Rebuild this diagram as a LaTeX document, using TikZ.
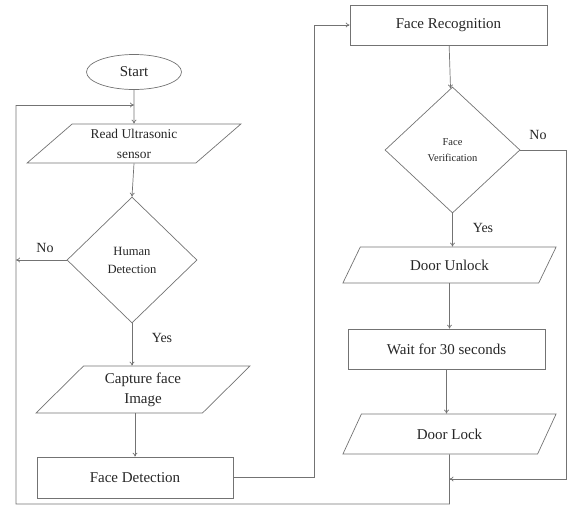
\documentclass[tikz,border=0pt]{standalone}
\usepackage{fontspec}
\setmainfont{Liberation Serif}
\usetikzlibrary{shapes.geometric,arrows.meta}

\begin{document}
\begin{tikzpicture}[x=1pt, y=-1pt, >={To[length=4pt,width=5pt]},
    every node/.style = {align=center, text=black!85,
      font=\fontsize{15}{20}\selectfont},
    line/.style = {draw=black!55, line width=0.7pt},
    box/.style = {rectangle, draw=black!55, line width=0.7pt,
      minimum width=197pt, minimum height=40pt},
    io/.style = {trapezium, draw=black!55, line width=0.7pt,
      trapezium stretches=true, inner sep=0pt,
      minimum width=214pt, minimum height=#1},
    decision/.style = {diamond, draw=black!55, line width=0.7pt,
      inner sep=0pt},
    answer/.style = {font=\fontsize{14}{16}\selectfont}]
    \useasboundingbox (0,0) rectangle (568,507);

    \node[ellipse, draw=black!55, line width=0.7pt,
      minimum width=95pt, minimum height=35pt] (start) at (134,72) {Start};
    \node[io=39pt, trapezium left angle=43, trapezium right angle=137,
      font=\fontsize{13.4}{20}\selectfont] (read) at (134,143.5)
      {Read Ultrasonic\\sensor};
    \node[decision, minimum width=130pt, minimum height=126pt,
      font=\fontsize{12.6}{18}\selectfont] (human) at (132,260)
      {Human\\Detection};
    \node[io=47pt, trapezium left angle=48, trapezium right angle=132]
      (capture) at (143,389.5) {Capture face\\Image};
    \node[box, minimum width=196pt, minimum height=41pt]
      (facedet) at (135,477.5) {Face Detection};

    \node[box] (facerec) at (448.5,25) {Face Recognition};
    \node[decision, minimum width=135pt, minimum height=126pt,
      font=\fontsize{10.5}{16}\selectfont] (verif) at (452.5,150)
      {Face\\Verification};
    \node[io=36pt, trapezium left angle=54, trapezium right angle=126]
      (unlock) at (449.5,265) {Door Unlock};
    \node[box] (wait) at (446.5,349) {Wait for 30 seconds};
    \node[io=40pt, trapezium left angle=57, trapezium right angle=123]
      (lock) at (449.5,434) {Door Lock};

    \node[answer] (no1) at (45,248) {No};
    \node[answer] (yes1) at (162,338) {Yes};
    \node[answer] (no2) at (538,135) {No};
    \node[answer] (yes2) at (483,228) {Yes};

    \coordinate (loopin) at (134,105);
    \coordinate (loopleft) at (16,105);
    \coordinate (loopcorner) at (16,504);
    \coordinate (lockdown) at (449.5,504);
    \coordinate (rejoin) at (449.5,479);
    \coordinate (rightside) at (566,479);
    \coordinate (riser) at (314,25);

    \draw[line, ->] (start) -- (read);
    \draw[line, ->] (loopleft) -- (loopin);
    \draw[line, ->] (read.south) -- (human.north);
    \draw[line, ->] (human.west) -- (human.west -| loopleft);
    \draw[line, ->] (human.south) -- (human.south |- capture.north);
    \draw[line, ->] (facedet.north |- capture.south) -- (facedet.north);
    \draw[line, ->] (facedet.east) -| (riser) -- (facerec.west);

    \draw[line, ->] (facerec) -- (verif);
    \draw[line, ->] (verif.east) -| (rightside) -- (rejoin);
    \draw[line, ->] (verif.south) -- (verif.south |- unlock.north);
    \draw[line, ->] (unlock.south) -- (unlock.south |- wait.north);
    \draw[line, ->] (wait.south) -- (wait.south |- lock.north);
    \draw[line] (lock.south) -- (lockdown) -- (loopcorner) -- (loopleft);
  \end{tikzpicture}
\end{document}
